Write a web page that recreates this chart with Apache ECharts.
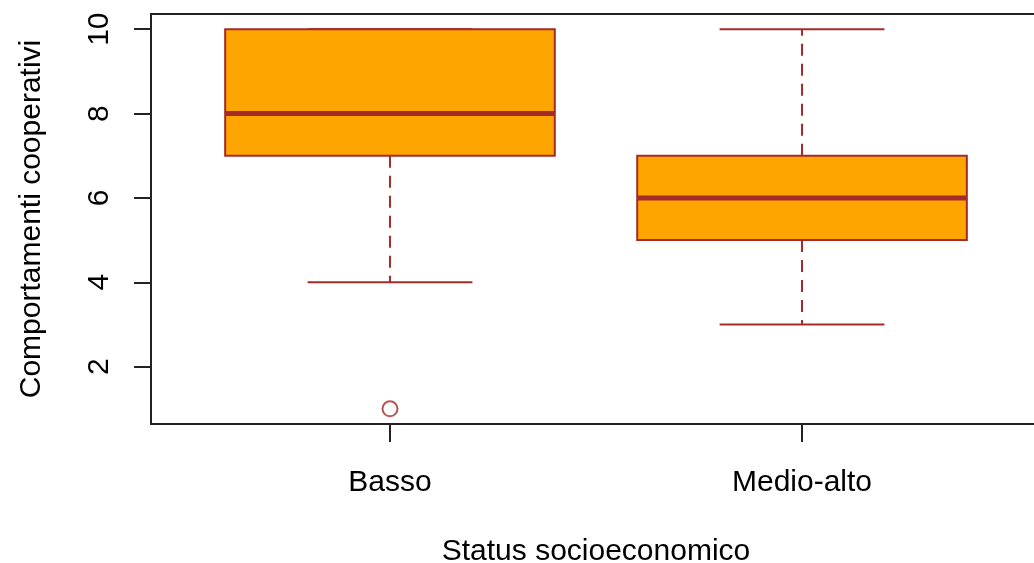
<!DOCTYPE html>
<html>
<head>
<meta charset="utf-8">
<script src="https://cdn.jsdelivr.net/npm/echarts@6/dist/echarts.min.js"></script>
<style>
  html, body { margin: 0; padding: 0; background: #ffffff; }
  #chart { width: 1034px; height: 563px; }
</style>
</head>
<body>
<div id="chart"></div>
<script>
// Groups and five-number summaries for each box
const categories = ['Basso', 'Medio-alto'];
const whiskerLow = [4, 3];
const quartile1 = [7, 5];
const medians = [8, 6];
const quartile3 = [10, 7];
const whiskerHigh = [10, 10];

// Points beyond the whiskers
const outlierGroups = ['Basso'];
const outlierValues = [1];

// Axis ticks
const yTicks = [2, 4, 6, 8, 10];
const xTicks = categories.map((c, i) => i + 1);

const FONT = '"Liberation Sans", Arial, Helvetica, sans-serif';
const FONT_SIZE = 30;
const BROWN = '#a52a2a';
const FILL = '#ffa500';
const AXIS = '#222222';

const boxData = categories.map((c, i) => [
  i + 1, whiskerLow[i], quartile1[i], medians[i], quartile3[i], whiskerHigh[i]
]);
const outlierData = outlierGroups.map((g, i) => [categories.indexOf(g) + 1, outlierValues[i]]);

const BOX_HALF = 0.4;   // half box width, in x units
const CAP_HALF = 0.2;   // half whisker-cap width, in x units

function renderBox(params, api) {
  const x = api.value(0);
  const lo = api.value(1), q1 = api.value(2), med = api.value(3),
        q3 = api.value(4), hi = api.value(5);
  const c = (xx, yy) => api.coord([xx, yy]);
  const seg = (a, b, style) => ({
    type: 'line',
    shape: { x1: a[0], y1: a[1], x2: b[0], y2: b[1] },
    style: Object.assign({ stroke: BROWN, lineWidth: 2 }, style)
  });
  const tl = c(x - BOX_HALF, q3), br = c(x + BOX_HALF, q1);
  return {
    type: 'group',
    children: [
      seg(c(x, q3), c(x, hi), { lineDash: [12, 8] }),
      seg(c(x, q1), c(x, lo), { lineDash: [12, 8] }),
      seg(c(x - CAP_HALF, hi), c(x + CAP_HALF, hi)),
      seg(c(x - CAP_HALF, lo), c(x + CAP_HALF, lo)),
      {
        type: 'rect',
        shape: { x: tl[0], y: tl[1], width: br[0] - tl[0], height: br[1] - tl[1] },
        style: { fill: FILL, stroke: BROWN, lineWidth: 2 }
      },
      seg(c(x - BOX_HALF, med), c(x + BOX_HALF, med), { lineWidth: 5 })
    ]
  };
}

const chart = echarts.init(document.getElementById('chart'), null, { renderer: 'canvas' });
chart.setOption({
  animation: false,
  backgroundColor: '#ffffff',
  textStyle: { fontFamily: FONT, color: '#000' },
  grid: {
    left: 151, top: 14, width: 890, height: 410,
    outerBoundsMode: 'none',
    containLabel: false,
    show: true, borderColor: AXIS, borderWidth: 2, backgroundColor: 'transparent'
  },
  xAxis: {
    type: 'value',
    min: 0.42, max: 2.58,
    name: 'Status socioeconomico',
    nameLocation: 'middle',
    nameGap: 113,
    nameTextStyle: { fontFamily: FONT, fontSize: FONT_SIZE, color: '#000' },
    axisLine: { show: true, lineStyle: { color: AXIS, width: 2 } },
    axisTick: { show: true, length: 18, inside: false, customValues: xTicks,
                lineStyle: { color: AXIS, width: 2 } },
    axisLabel: { show: true, margin: 44, fontFamily: FONT, fontSize: FONT_SIZE, color: '#000',
                 customValues: xTicks,
                 formatter: v => categories[Math.round(v) - 1] || '' },
    splitLine: { show: false }
  },
  yAxis: {
    type: 'value',
    min: 0.64, max: 10.36,
    name: 'Comportamenti cooperativi',
    nameLocation: 'middle',
    nameGap: 104,
    nameRotate: 90,
    nameTextStyle: { fontFamily: FONT, fontSize: FONT_SIZE, color: '#000' },
    axisLine: { show: true, lineStyle: { color: AXIS, width: 2 } },
    axisTick: { show: true, length: 17, inside: false, customValues: yTicks,
                lineStyle: { color: AXIS, width: 2 } },
    axisLabel: { show: true, rotate: 90, margin: 36, fontFamily: FONT, fontSize: FONT_SIZE,
                 color: '#000', customValues: yTicks },
    splitLine: { show: false }
  },
  series: [
    {
      type: 'custom',
      renderItem: renderBox,
      encode: { x: 0, y: [1, 2, 3, 4, 5] },
      data: boxData,
      z: 2
    },
    {
      type: 'scatter',
      data: outlierData,
      symbol: 'circle',
      symbolSize: 15,
      itemStyle: { color: 'rgba(255,255,255,0)', borderColor: BROWN, borderWidth: 2 },
      z: 3
    }
  ]
});
</script>
</body>
</html>
